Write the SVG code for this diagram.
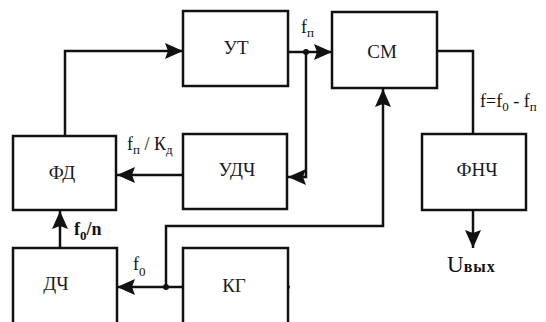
<svg xmlns="http://www.w3.org/2000/svg" width="546" height="322" viewBox="0 0 546 322">
<style>
.box{fill:#fff;stroke:#111;stroke-width:2.5}
.ln{fill:none;stroke:#111;stroke-width:2.5}
text{font-family:"Liberation Serif","Times New Roman","DejaVu Serif",serif}
.lbl{font-size:19px;fill:#1a1a1a;text-anchor:middle}
.t{font-size:18px;fill:#111}
.sub{font-size:13px}
.big{font-size:23px}
.vyh{font-size:16px;font-weight:bold;letter-spacing:1px}
</style>
<defs>
<marker id="ah" markerUnits="userSpaceOnUse" markerWidth="18" markerHeight="16" refX="18" refY="8" orient="auto">
<path d="M0,0 L18,8 L0,16 L3,8 z" fill="#111"/>
</marker>
</defs>
<rect width="546" height="322" fill="#fff"/>
<g id="connectors">
<path class="ln" d="M65,136 V51 H183" marker-end="url(#ah)"/>
<path class="ln" d="M288,52 H332" marker-end="url(#ah)"/>
<path class="ln" d="M306,52 V177 H288" marker-end="url(#ah)"/>
<path class="ln" d="M183,175 H117" marker-end="url(#ah)"/>
<path class="ln" d="M183,287 H117" marker-end="url(#ah)"/>
<path class="ln" d="M166,287 V226 H383 V89" marker-end="url(#ah)"/>
<path class="ln" d="M60,248 V211" marker-end="url(#ah)"/>
<path class="ln" d="M437,51 H473 V134"/>
<path class="ln" d="M473,210 V248" marker-end="url(#ah)"/>
<circle cx="306" cy="52" r="3" fill="#111"/>
<circle cx="166" cy="287" r="3" fill="#111"/>
<circle cx="288" cy="287" r="2" fill="#111"/>
</g>
<g id="node-ut"><rect class="box" x="183" y="11" width="105" height="75"/><text class="lbl" x="236" y="54">УТ</text></g>
<g id="node-sm"><rect class="box" x="332" y="12" width="105" height="76"/><text class="lbl" x="382" y="58">СМ</text></g>
<g id="node-fd"><rect class="box" x="13" y="136" width="103" height="74"/><text class="lbl" x="62" y="179">ФД</text></g>
<g id="node-udch"><rect class="box" x="183" y="134" width="104" height="75"/><text class="lbl" x="237" y="176">УДЧ</text></g>
<g id="node-fnch"><rect class="box" x="422" y="134" width="104" height="76"/><text class="lbl" x="477" y="176">ФНЧ</text></g>
<g id="node-dch"><rect class="box" x="13" y="248" width="104" height="90"/><text class="lbl" x="56" y="290">ДЧ</text></g>
<g id="node-kg"><rect class="box" x="183" y="248" width="105" height="90"/><text class="lbl" x="234" y="292">КГ</text></g>
<g id="labels">
<text class="t" x="301" y="33">f<tspan class="sub" dy="4">п</tspan></text>
<text class="t" x="127" y="150">f<tspan class="sub" dy="4">п</tspan><tspan dy="-4"> / К</tspan><tspan class="sub" dy="4">д</tspan></text>
<text class="t" x="74" y="235" font-weight="bold">f<tspan class="sub" dy="5">0</tspan><tspan dy="-5">/n</tspan></text>
<text class="t" x="133" y="270">f<tspan class="sub" dy="6">0</tspan></text>
<text class="t" x="480" y="107">f=f<tspan class="sub" dy="4">0</tspan><tspan dy="-4"> - f</tspan><tspan class="sub" dy="4">п</tspan></text>
<text class="t big" x="447" y="272">U<tspan class="vyh">вых</tspan></text>
</g>
</svg>
